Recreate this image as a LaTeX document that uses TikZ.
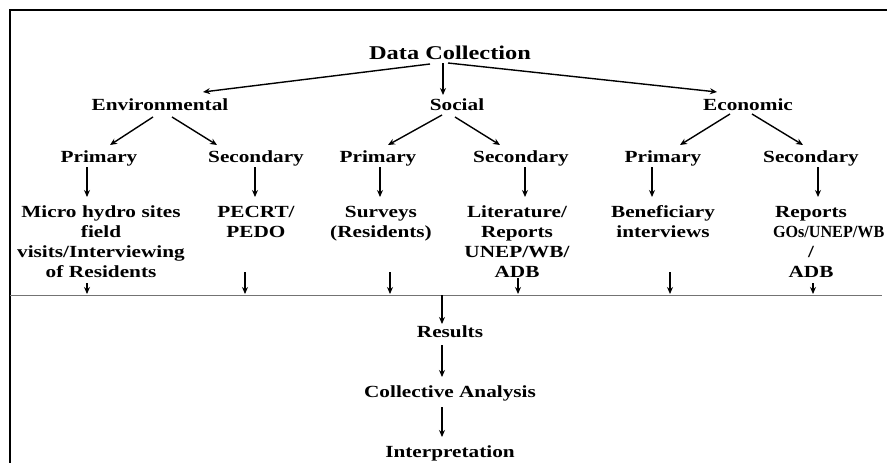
\documentclass[tikz,border=0pt]{standalone}
\usepackage{fontspec}
\setmainfont{Liberation Serif}[FakeStretch=1.25]
\usepackage{tikz}
\usetikzlibrary{arrows.meta}
\tikzset{
    % bold labels, placed on their baseline
    lbl/.style={
        font=\bfseries\fontsize{17}{20}\selectfont,
        inner sep=0pt,
        anchor=base,
        align=center
    },
    toplbl/.style={
        lbl,
        font=\bfseries\fontsize{19.5}{22}\selectfont
    },
    arr/.style={
        line width=1.4pt,
        black,
        -{Stealth[length=7pt, width=6pt]}
    }
}

\begin{document}
\begin{tikzpicture}[x=1pt,y=-1pt]
    \useasboundingbox (0,0) rectangle (887,463);
    % frame and the gray separating line
    \draw[line width=2pt] (10,463) -- (10,10) -- (890,10);
    \coordinate (gl) at (10,295);
    \coordinate (gr) at (882,295);
    \draw[line width=1pt,black!55] (gl) -- (gr);

    \node[toplbl] (dc) at (450,59) {Data Collection};
    \node[lbl] (env) at (160,110) {Environmental};
    \node[lbl] (soc) at (457,110) {Social};
    \node[lbl] (eco) at (748,110) {Economic};

    \node[lbl] (p1) at (99,162) {Primary};
    \node[lbl] (s1) at (256,162) {Secondary};
    \node[lbl] (p2) at (378,162) {Primary};
    \node[lbl] (s2) at (521,162) {Secondary};
    \node[lbl] (p3) at (663,162) {Primary};
    \node[lbl] (s3) at (811,162) {Secondary};

    % text width keeps the base anchor on the first line
    \node[lbl,text width=190pt] (m1) at (101,217) {Micro hydro sites\\field\\visits/Interviewing\\of Residents};
    \node[lbl,text width=100pt] (m2) at (256,217) {PECRT/\\PEDO};
    \node[lbl,text width=110pt] (m3) at (381,217) {Surveys\\(Residents)};
    \node[lbl,text width=110pt] (m4) at (517,217) {Literature/\\Reports\\UNEP/WB/\\ADB};
    \node[lbl,text width=120pt] (m5) at (663,217) {Beneficiary\\interviews};
    \node[lbl,text width=76pt] (m6) at (811,217) {Reports\\\scalebox{0.76}[1]{GOs/UNEP/WB}\\/\\ADB};

    \node[lbl] (res) at (450,337) {Results};
    \node[lbl] (ana) at (450,397) {Collective Analysis};
    \node[lbl] (intp) at (450,457) {Interpretation};

    \draw[arr] ([shift={(-20,5)}]dc.base) -- ([shift={(43,-18)}]env.base);
    \draw[arr] ([shift={(-7,4)}]dc.base) -- ([shift={(-14,-15)}]soc.base);
    \draw[arr] ([shift={(-2,4)}]dc.base) -- ([shift={(-31,-18)}]eco.base);

    \draw[arr] ([shift={(-7,7)}]env.base) -- ([shift={(11,-17)}]p1.base);
    \draw[arr] ([shift={(12,7)}]env.base) -- ([shift={(-39,-17)}]s1.base);
    \draw[arr] ([shift={(-15,5)}]soc.base) -- ([shift={(10,-17)}]p2.base);
    \draw[arr] ([shift={(-2,7)}]soc.base) -- ([shift={(-21,-17)}]s2.base);
    \draw[arr] ([shift={(-18,4)}]eco.base) -- ([shift={(17,-17)}]p3.base);
    \draw[arr] ([shift={(4,4)}]eco.base) -- ([shift={(-8,-17)}]s3.base);

    \draw[arr] ([shift={(-12,5)}]p1.base) -- ([shift={(-14,-20)}]m1.base);
    \draw[arr] ([shift={(-1,5)}]s1.base) -- ([shift={(-1,-20)}]m2.base);
    \draw[arr] ([shift={(2,5)}]p2.base) -- ([shift={(-1,-20)}]m3.base);
    \draw[arr] ([shift={(4,5)}]s2.base) -- ([shift={(8,-20)}]m4.base);
    \draw[arr] ([shift={(-11,5)}]p3.base) -- ([shift={(-11,-20)}]m5.base);
    \draw[arr] ([shift={(7,5)}]s3.base) -- ([shift={(7,-20)}]m6.base);

    % short arrows down onto the line
    \draw[arr] ([shift={(-14,66)}]m1.base) -- ([shift={(-14,77)}]m1.base);
    \draw[arr] ([shift={(-11,55)}]m2.base) -- ([shift={(-11,77)}]m2.base);
    \draw[arr] ([shift={(9,55)}]m3.base) -- ([shift={(9,77)}]m3.base);
    \draw[arr] ([shift={(1,61)}]m4.base) -- ([shift={(1,77)}]m4.base);
    \draw[arr] ([shift={(7,55)}]m5.base) -- ([shift={(7,77)}]m5.base);
    \draw[arr] ([shift={(2,66)}]m6.base) -- ([shift={(2,77)}]m6.base);

    \draw[arr] ([shift={(-8,-42)}]res.base) -- ([shift={(-8,-13)}]res.base);
    \draw[arr] ([shift={(-8,8)}]res.base) -- ([shift={(-8,-20)}]ana.base);
    \draw[arr] ([shift={(-8,10)}]ana.base) -- ([shift={(-8,-20)}]intp.base);
\end{tikzpicture}
\end{document}
